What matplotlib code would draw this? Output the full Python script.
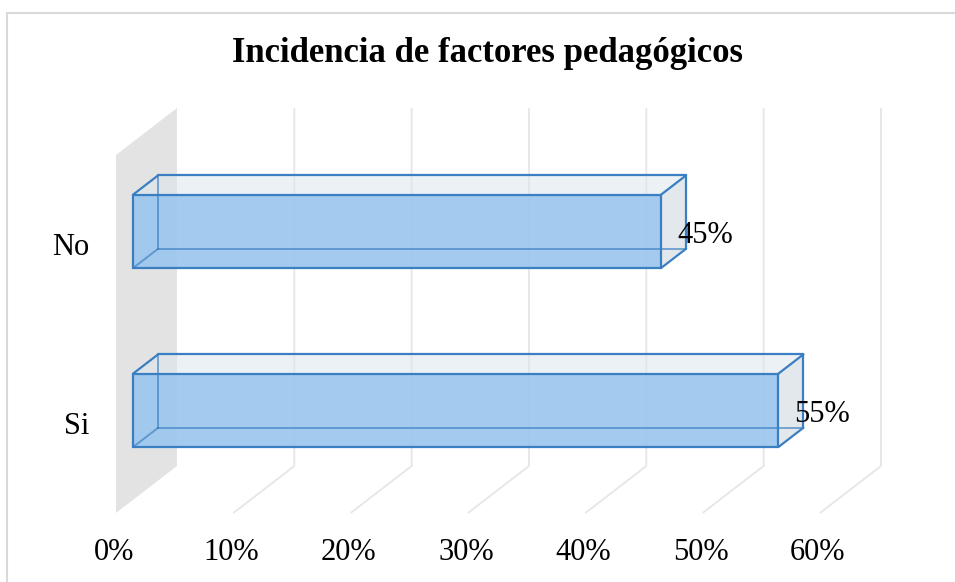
import matplotlib
matplotlib.use("Agg")
import matplotlib.pyplot as plt
from matplotlib.patches import Polygon, Rectangle

# ---- data ----
categories = ["Si", "No"]
values = [55, 45]
value_labels = ["55%", "45%"]
ticks = [0, 10, 20, 30, 40, 50, 60]
tick_labels = ["0%", "10%", "20%", "30%", "40%", "50%", "60%"]
title = "Incidencia de factores pedagógicos"

# ---- layout (pixel-derived scales) ----
W, H = 955, 582
PX_PER_PCT = 117.33 / 10.0
PX_PER_CAT = 179.0
X0_PX, Y0_PX = 116.0, 513.0
DX = 61.0 / PX_PER_PCT      # depth shift in x (data units)
DY = 47.0 / PX_PER_CAT      # depth shift in y (data units)
N = len(categories)

def P(x, y, z):
    return (x + z * DX, y + z * DY)

fig = plt.figure(figsize=(W / 100, H / 100), dpi=100)
ax = fig.add_axes([0, 0, 1, 1])
ax.set_xlim(-X0_PX / PX_PER_PCT, (W - X0_PX) / PX_PER_PCT)
ax.set_ylim((Y0_PX - H) / PX_PER_CAT, Y0_PX / PX_PER_CAT)
ax.axis("off")

serif = ["Liberation Serif", "DejaVu Serif"]

# chart border (top/left visible)
fig.add_artist(Rectangle((7 / W, -0.1), 1.2, (H - 13) / H + 0.1, transform=fig.transFigure,
                         fill=False, edgecolor="#d9d9d9", lw=1.5))

# side wall at x=0
wall = Polygon([P(0, 0, 0), P(0, 0, 1), P(0, N, 1), P(0, N, 0)], closed=True,
               facecolor="#e3e3e3", edgecolor="none", zorder=1)
ax.add_patch(wall)

# gridlines (back wall + floor)
grid_c = "#e6e6e6"
for t in ticks[1:]:
    xs, ys = zip(P(t, 0, 0), P(t, 0, 1), P(t, N, 1))
    ax.plot(xs, ys, color=grid_c, lw=1.3, zorder=1, solid_capstyle="butt")

# bars
edge_c = "#3a7fc2"
z0, z1 = 0.28, 0.69
hh = 0.205
for i, (cat, v) in enumerate(zip(categories, values)):
    c = i + 0.5
    yb, yt = c - hh, c + hh
    # top face
    top = Polygon([P(0, yt, z0), P(v, yt, z0), P(v, yt, z1), P(0, yt, z1)],
                  facecolor="#dde6ee", alpha=0.55, edgecolor="none", zorder=2)
    ax.add_patch(top)
    # end face
    end = Polygon([P(v, yb, z0), P(v, yt, z0), P(v, yt, z1), P(v, yb, z1)],
                  facecolor="#d5dde4", alpha=0.65, edgecolor="none", zorder=2)
    ax.add_patch(end)
    # front face
    front = Polygon([P(0, yb, z0), P(v, yb, z0), P(v, yt, z0), P(0, yt, z0)],
                    facecolor="#9cc6ee", alpha=0.92, edgecolor="none", zorder=4)
    ax.add_patch(front)
    # back edges (seen through the transparent bar)
    for a, b in [((0, yb, z1), (v, yb, z1)), ((0, yb, z1), (0, yt, z1)),
                 ((0, yb, z0), (0, yb, z1))]:
        xs, ys = zip(P(*a), P(*b))
        ax.plot(xs, ys, color=edge_c, lw=1.4, alpha=0.65, zorder=4.5)
    # visible edges
    edges = [((0, yb, z0), (v, yb, z0)), ((v, yb, z0), (v, yt, z0)),
             ((v, yt, z0), (0, yt, z0)), ((0, yt, z0), (0, yb, z0)),
             ((0, yt, z0), (0, yt, z1)), ((0, yt, z1), (v, yt, z1)),
             ((v, yt, z0), (v, yt, z1)), ((v, yt, z1), (v, yb, z1)),
             ((v, yb, z0), (v, yb, z1))]
    for a, b in edges:
        xs, ys = zip(P(*a), P(*b))
        ax.plot(xs, ys, color=edge_c, lw=1.6, zorder=5, solid_capstyle="round")
    # value label
    fx, fy = P(v, c, z0)
    ax.text(fx + 16 / PX_PER_PCT, fy - 4.5 / PX_PER_CAT, value_labels[i],
            ha="left", va="center", fontsize=22, family=serif, color="black", zorder=6)
    # category label
    ax.text(-27 / PX_PER_PCT, c - 3 / PX_PER_CAT, cat, ha="right", va="center",
            fontsize=22, family=serif, color="black")

# tick labels
for t, lab in zip(ticks, tick_labels):
    ax.text(t - 2 / PX_PER_PCT, -39 / PX_PER_CAT, lab, ha="center", va="center",
            fontsize=22, family=serif, color="black")

fig.text(487 / W, 1 - 54 / H, title, ha="center", va="center", fontsize=25,
         fontweight="bold", family=serif, color="black")

fig.savefig("out.png", dpi=100)
